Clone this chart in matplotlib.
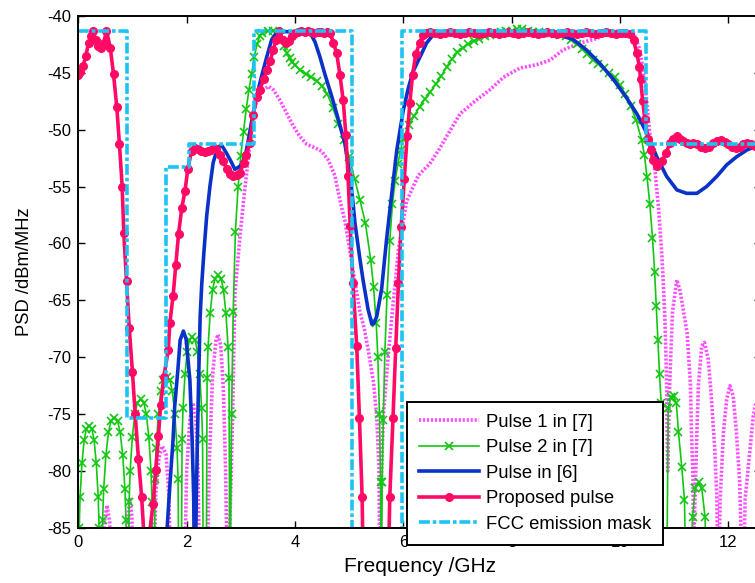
import matplotlib

matplotlib.use("Agg")
import matplotlib.pyplot as plt

plt.rcParams["font.family"] = ["Liberation Sans", "DejaVu Sans"]
plt.rcParams["axes.unicode_minus"] = False

# FCC indoor mask with a notch around 5-6 GHz (GHz edges, dBm/MHz levels)
mask_edges = [0.0, 0.89, 1.61, 2.05, 3.24, 5.06, 5.97, 10.48, 13.0]
mask_levels = [-41.3, -75.3, -53.3, -51.3, -41.3, -92.0, -41.3, -51.3]

# Pulse 1 in [7]
p1_f = [0.0, 0.05, 0.44, 0.48, 0.53, 0.58, 0.62, 0.88, 0.92, 0.95, 0.99, 1.02,
        1.38, 1.43, 1.49, 1.55, 1.62, 1.67, 1.72, 1.95, 2.0, 2.06, 2.12, 2.17, 2.21, 2.25,
        2.37, 2.42, 2.48, 2.54, 2.58, 2.63, 2.68, 2.72, 2.76,
        2.85, 2.89, 2.99, 3.08, 3.17, 3.23, 3.32, 3.42, 3.51, 3.60, 3.72, 3.85, 3.97,
        4.09, 4.22, 4.37, 4.49, 4.62, 4.74, 4.83, 4.92, 5.02, 5.11, 5.20, 5.28, 5.35,
        5.45, 5.51, 5.55, 5.57, 5.60, 5.63, 5.72, 5.82, 5.91, 6.06, 6.28, 6.49, 6.68,
        6.80, 7.05, 7.35, 7.60, 7.85, 8.15, 8.46, 8.71, 8.95, 9.26, 9.57, 9.82, 10.0,
        10.25, 10.37, 10.46, 10.55, 10.65, 10.71, 10.77, 10.80, 10.83, 10.86, 10.88,
        10.92, 10.97, 11.05, 11.10, 11.14, 11.24, 11.30, 11.32, 11.35, 11.36, 11.37,
        11.42, 11.45, 11.51, 11.56, 11.63, 11.69, 11.75, 11.79, 11.81, 11.85, 11.91,
        11.97, 12.03, 12.09, 12.15, 12.21, 12.27, 12.31, 12.40, 12.46, 12.55, 12.65]
p1_db = [-84.0, -92, -92, -84.5, -83.0, -84.5, -92, -92, -84.0, -82.3, -84.0, -92,
         -92, -82.0, -78.8, -77.8, -78.5, -82.0, -92, -92, -80.0, -75.5, -74.0, -75.5, -80.0, -92,
         -92, -79.0, -71.5, -68.6, -68.0, -69.0, -73.0, -80.0, -92,
         -75.0, -64.5, -59.1, -55.0, -51.2, -48.6, -47.1, -46.5, -46.2, -46.5, -47.4, -48.6, -49.7,
         -50.6, -51.3, -51.6, -51.9, -52.7, -54.1, -56.2, -58.0, -60.8, -63.5, -66.0, -67.5, -69.3,
         -72.2, -75.2, -79.6, -92, -80.0, -75.2, -69.9, -64.9, -60.6, -56.3, -54.0, -53.0, -51.6,
         -50.6, -48.6, -47.4, -46.5, -45.4, -44.6, -44.3, -43.9, -43.0, -42.4, -42.0, -41.5, -41.3,
         -41.5, -43.0, -45.9, -50.3, -53.8, -56.8, -60.8, -63.5, -66.7, -72.0, -80.0,
         -72.0, -66.0, -63.2, -64.0, -65.0, -67.9, -72.3, -76.6, -81.0, -92, -85.0,
         -76.6, -72.3, -69.0, -68.7, -70.2, -73.7, -78.1, -82.5, -92, -82.5, -76.6,
         -73.7, -72.5, -73.4, -76.6, -81.0, -92, -82.5, -78.1, -75.2, -73.0, -71.0]

# Pulse 2 in [7]
p2_f = [0.0, 0.016, 0.032, 0.068, 0.108, 0.148, 0.20, 0.252, 0.292, 0.332, 0.368, 0.384, 0.40,
        0.43, 0.449, 0.468, 0.51, 0.557, 0.604, 0.665, 0.726, 0.773, 0.82, 0.862, 0.881, 0.90,
        0.92, 0.938, 0.957, 0.998, 1.044, 1.09, 1.15, 1.21, 1.256, 1.302, 1.343, 1.362, 1.38,
        1.40, 1.418, 1.437, 1.478, 1.524, 1.57, 1.63, 1.69, 1.736, 1.782, 1.823, 1.842, 1.86,
        1.90, 1.916, 1.933, 1.97, 2.011, 2.052, 2.105, 2.158, 2.199, 2.24, 2.277, 2.294, 2.31,
        2.36, 2.378, 2.395, 2.435, 2.479, 2.523, 2.58, 2.637, 2.681, 2.725, 2.765, 2.782, 2.80,
        2.83, 2.86, 2.90, 2.95, 3.00, 3.05, 3.10, 3.15, 3.20, 3.25, 3.30, 3.35, 3.40, 3.50,
        3.60, 3.65, 3.70, 3.75, 3.80, 3.85, 3.90, 3.95, 4.00, 4.10, 4.20, 4.30, 4.40, 4.50,
        4.60, 4.70, 4.80, 4.90, 5.00, 5.10, 5.20, 5.30, 5.40, 5.45, 5.50, 5.53, 5.56, 5.58,
        5.59, 5.61, 5.63, 5.66, 5.70, 5.75, 5.80, 5.85, 5.90, 5.95, 6.00, 6.10, 6.20, 6.30,
        6.40, 6.50, 6.60, 6.70, 6.80, 6.90, 7.00, 7.10, 7.20, 7.30, 7.40, 7.50, 7.60, 7.70,
        7.80, 7.90, 8.00, 8.10, 8.20, 8.30, 8.40, 8.50, 8.60, 8.70, 8.80, 8.90, 9.00, 9.10,
        9.20, 9.30, 9.40, 9.50, 9.60, 9.70, 9.80, 9.90, 10.00, 10.10, 10.20, 10.30, 10.40,
        10.45, 10.50, 10.55, 10.60, 10.64, 10.67, 10.70, 10.73, 10.76, 10.80, 10.86, 10.89,
        10.94, 10.99, 11.04, 11.08, 11.14, 11.19, 11.23, 11.30, 11.34, 11.39, 11.45, 11.51,
        11.57, 11.62, 11.70]
p2_db = [-88, -85.0, -82.3, -79.3, -77.3, -76.3, -76.0, -76.3, -77.3, -79.3, -82.3, -85.0, -92,
         -92, -84.3, -81.6, -78.6, -76.6, -75.6, -75.3, -75.6, -76.6, -78.6, -81.6, -84.3, -92,
         -92, -82.7, -80.0, -77.0, -75.0, -74.0, -73.7, -74.0, -75.0, -77.0, -80.0, -82.7, -92,
         -92, -80.7, -78.0, -75.0, -73.0, -72.0, -71.7, -72.0, -73.0, -75.0, -78.0, -80.7, -92,
         -92, -77.2, -74.5, -71.5, -69.5, -68.5, -68.2, -68.5, -69.5, -71.5, -74.5, -77.2, -92,
         -92, -71.8, -69.1, -66.1, -64.1, -63.1, -62.8, -63.1, -64.1, -66.1, -69.1, -71.8, -92,
         -75.0, -66.0, -59.0, -55.0, -52.3, -50.2, -48.2, -46.5, -45.1, -43.6, -42.5, -41.8, -41.5, -41.3,
         -41.3, -41.5, -41.8, -42.1, -42.7, -43.3, -43.7, -44.1, -44.3, -44.8, -45.1, -45.4, -45.7, -46.2,
         -46.9, -48.1, -49.5, -50.9, -52.4, -54.3, -56.2, -58.2, -61.5, -63.8, -67.0, -70.0, -75.0, -81.0,
         -92, -81.0, -75.5, -69.5, -64.5, -59.8, -56.5, -54.5, -53.0, -51.8, -50.8, -49.6, -48.8, -48.0,
         -47.3, -46.7, -46.0, -45.3, -44.5, -43.8, -43.2, -42.8, -42.5, -42.2, -42.0, -41.8, -41.7, -41.5,
         -41.4, -41.3, -41.3, -41.2, -41.2, -41.3, -41.4, -41.4, -41.5, -41.5, -41.6, -41.7, -41.8, -42.1,
         -42.5, -42.9, -43.4, -43.9, -44.2, -44.6, -45.0, -45.4, -46.1, -46.9, -47.9, -49.2, -50.9,
         -52.2, -54.2, -56.5, -59.5, -62.5, -65.5, -68.5, -71.5, -74.0, -92, -92, -74.5,
         -73.5, -73.4, -74.0, -76.6, -79.6, -82.5, -92, -92, -84.0, -81.5, -81.0, -81.5,
         -84.0, -92, -95]

# Pulse in [6]
p6_f = [1.62, 1.64, 1.69, 1.75, 1.78, 1.84, 1.88, 1.94, 1.99, 2.06, 2.10, 2.13, 2.15, 2.18,
        2.22, 2.25, 2.28, 2.32, 2.37, 2.43, 2.49, 2.58, 2.65, 2.74, 2.83, 2.89, 2.99, 3.08,
        3.14, 3.20, 3.29, 3.39, 3.48, 3.57, 3.66, 3.80, 4.00, 4.15, 4.28, 4.37, 4.46, 4.55,
        4.68, 4.80, 4.92, 5.03, 5.11, 5.20, 5.26, 5.35, 5.42, 5.46, 5.51, 5.60, 5.69, 5.79,
        5.88, 6.00, 6.09, 6.18, 6.31, 6.43, 6.58, 7.00, 8.00, 8.60, 8.89, 9.14, 9.38, 9.63,
        9.88, 10.12, 10.31, 10.43, 10.55, 10.68, 10.86, 11.05, 11.23, 11.42, 11.60, 11.79,
        11.97, 12.15, 12.34, 12.49, 12.65]
p6_db = [-92, -85.0, -81.3, -77.2, -74.3, -71.0, -68.5, -67.7, -68.4, -72.0, -77.0, -82.2, -92, -82.0,
         -72.2, -66.4, -63.5, -60.7, -57.6, -55.0, -52.9, -51.5, -51.4, -52.1, -52.9, -53.5, -53.2, -52.4,
         -50.9, -49.3, -47.1, -45.2, -43.6, -42.1, -41.5, -41.4, -41.4, -41.4, -41.5, -42.3, -43.6, -45.1,
         -47.1, -49.1, -51.2, -54.5, -58.3, -61.4, -63.3, -65.8, -67.1, -67.0, -66.4, -64.0, -59.7, -55.5,
         -51.8, -48.3, -46.4, -44.9, -43.6, -42.4, -41.5, -41.4, -41.4, -41.5, -41.7, -42.1, -43.0, -44.2,
         -45.6, -47.2, -48.6, -49.7, -50.9, -52.4, -54.1, -55.3, -55.6, -55.6, -55.0, -54.1,
         -53.1, -52.4, -51.8, -51.5, -51.3]

# Proposed pulse
pp_f = [0.0, 0.04, 0.09, 0.14, 0.19, 0.24, 0.27, 0.32, 0.37, 0.42, 0.47, 0.52, 0.59, 0.65,
        0.71, 0.76, 0.81, 0.84, 0.89, 0.94, 1.0, 1.05, 1.11, 1.17, 1.21, 1.25, 1.30, 1.38,
        1.43, 1.48, 1.52, 1.58, 1.66, 1.69, 1.75, 1.80, 1.85, 1.91, 1.97, 2.02, 2.09, 2.15,
        2.21, 2.27, 2.33, 2.39, 2.45, 2.50, 2.55, 2.62, 2.68, 2.74, 2.80, 2.86, 2.93, 2.99,
        3.05, 3.10, 3.17, 3.23, 3.29, 3.35, 3.42, 3.48, 3.54, 3.60, 3.65, 3.71, 3.77, 3.83,
        3.89, 3.95, 4.00, 4.06, 4.12, 4.18, 4.24, 4.30, 4.36, 4.42, 4.48, 4.54, 4.60, 4.65,
        4.71, 4.77, 4.83, 4.89, 4.94, 4.98, 5.02, 5.07, 5.14, 5.19, 5.24, 5.27, 5.71, 5.75,
        5.81, 5.86, 5.91, 5.96, 6.02, 6.07, 6.12, 6.17, 6.23, 6.30, 6.36, 6.42, 6.50, 6.59,
        6.68, 6.77, 6.86, 6.95, 7.04, 7.13, 7.22, 7.31, 7.40, 7.49, 7.58, 7.67, 7.76, 7.85,
        7.94, 8.03, 8.12, 8.21, 8.30, 8.39, 8.48, 8.57, 8.66, 8.75, 8.84, 8.93, 9.02, 9.11,
        9.20, 9.29, 9.38, 9.47, 9.56, 9.65, 9.74, 9.83, 9.92, 10.01, 10.10, 10.19, 10.25,
        10.31, 10.36, 10.38, 10.42, 10.46, 10.52, 10.57, 10.61, 10.69, 10.77, 10.85, 10.92,
        10.98, 11.05, 11.11, 11.17, 11.23, 11.29, 11.35, 11.42, 11.50, 11.57, 11.65, 11.72,
        11.80, 11.87, 11.93, 12.00, 12.07, 12.14, 12.21, 12.28, 12.35, 12.42, 12.49, 12.56]
pp_db = [-45.2, -44.9, -44.4, -43.5, -42.4, -41.8, -41.3, -42.1, -42.7, -42.8, -42.4, -41.3, -42.8, -45.1,
         -48.0, -51.3, -55.0, -59.1, -63.3, -67.4, -71.3, -75.0, -78.9, -82.3, -85.5, -92, -86.0, -82.9,
         -79.9, -76.9, -74.2, -71.7, -69.4, -67.0, -64.6, -61.9, -59.2, -56.9, -55.4, -53.5, -51.9, -51.6,
         -51.7, -51.9, -52.0, -51.9, -51.8, -51.6, -51.7, -52.2, -52.8, -53.5, -53.9, -54.1, -54.0, -53.8,
         -52.9, -52.2, -51.2, -48.7, -47.1, -46.5, -45.6, -44.8, -44.0, -43.0, -42.1, -41.3, -42.1, -42.4,
         -42.2, -41.8, -41.5, -41.4, -41.3, -41.4, -41.3, -41.4, -41.5, -41.4, -41.4, -41.5, -41.4, -41.5,
         -42.4, -43.3, -45.2, -47.4, -50.5, -54.1, -58.5, -63.5, -69.0, -75.3, -82.3, -92, -92, -82.3,
         -75.3, -69.2, -63.5, -58.6, -54.3, -50.6, -47.7, -45.2, -43.4, -42.4, -41.7, -41.5, -41.4, -41.5,
         -41.6, -41.5, -41.4, -41.5, -41.6, -41.5, -41.4, -41.5, -41.6, -41.5, -41.4, -41.5, -41.6, -41.5,
         -41.4, -41.5, -41.6, -41.5, -41.4, -41.5, -41.6, -41.5, -41.4, -41.5, -41.6, -41.5, -41.4, -41.5,
         -41.6, -41.5, -41.4, -41.5, -41.6, -41.5, -41.4, -41.5, -41.6, -41.5, -41.5, -41.6, -42.1,
         -43.3, -44.5, -45.6, -47.5, -49.1, -50.8, -51.8, -52.7, -53.2, -52.8, -52.1, -51.2,
         -50.8, -50.6, -50.8, -51.0, -51.2, -51.3, -51.2, -51.3, -51.5, -51.6, -51.5, -51.2,
         -51.0, -50.9, -51.1, -51.3, -51.5, -51.6, -51.5, -51.3, -51.2, -51.3, -51.4, -51.5]

fig = plt.figure(figsize=(7.55, 5.83), dpi=100)
ax = fig.add_axes([0.1037, 0.0943, 0.904, 0.8787])

ax.plot(p1_f, p1_db, color="#ff4dff", linestyle=(0, (0.6, 0.5)), linewidth=2.6,
        label="Pulse 1 in [7]")
ax.plot(p2_f, p2_db, color="#11c811", linestyle="-", linewidth=1.2, marker="x",
        markersize=5.5, markeredgewidth=1.2, label="Pulse 2 in [7]")
ax.plot(p6_f, p6_db, color="#0a32c8", linewidth=2.6, label="Pulse in [6]")
ax.plot(pp_f, pp_db, color="#ff0a64", linewidth=2.6, marker="o", markersize=5.5,
        label="Proposed pulse")
ax.plot(mask_edges, mask_levels + [mask_levels[-1]], drawstyle="steps-post",
        color="#1ec3f5", linestyle=(0, (3.0, 0.8, 1.0, 0.8)), linewidth=2.6,
        label="FCC emission mask")

ax.set_xlim(0, 12.6)
ax.set_ylim(-85, -40)
ax.set_xticks([0, 2, 4, 6, 8, 10, 12])
ax.set_yticks(range(-85, -39, 5))
ax.tick_params(direction="in", top=True, right=True, length=5, width=1.0,
               labelsize=12, pad=5)
for spine in ax.spines.values():
    spine.set_linewidth(1.4)

ax.set_xlabel("Frequency /GHz", fontsize=15)
ax.set_ylabel("PSD /dBm/MHz", fontsize=13.2)
ax.xaxis.set_label_coords(0.5007, -0.056)
ax.yaxis.set_label_coords(-0.066, 0.5)

leg = ax.legend(loc="lower left", bbox_to_anchor=(406.7 / 755, 1 - 545 / 583),
                bbox_transform=fig.transFigure, borderaxespad=0, fontsize=13.3,
                fancybox=False, framealpha=1, edgecolor="black", handlelength=3.25,
                handletextpad=0.36, labelspacing=0.46, borderpad=0.66)
leg.get_frame().set_linewidth(1.4)

fig.savefig("out.png", dpi=100)
